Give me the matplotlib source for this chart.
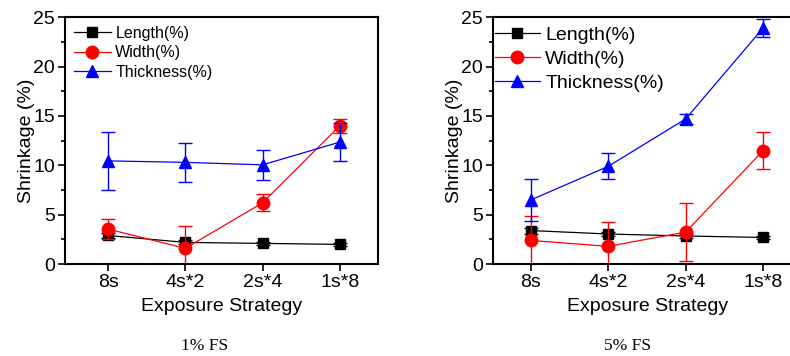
"""Shrinkage vs exposure strategy, 1% FS and 5% FS"""
import numpy as np
import matplotlib.pyplot as plt
from matplotlib.ticker import MultipleLocator

plt.rcParams['font.family'] = ['Liberation Sans', 'DejaVu Sans']

strategies = ['8s', '4s*2', '2s*4', '1s*8']

# 1% FS
length_1 = [2.9, 2.2, 2.1, 2.0]
length_1_err = [0.25, 0.2, 0.15, 0.15]
width_1 = [3.55, 1.6, 6.2, 14.0]
width_1_err = [1.05, 2.3, 0.85, 0.7]
thick_1 = [10.45, 10.3, 10.05, 12.35]
thick_1_err = [2.9, 1.95, 1.55, 1.9]

# 5% FS
length_5 = [3.4, 3.05, 2.85, 2.7]
length_5_err = [0.3, 0.2, 0.2, 0.15]
width_5 = [2.4, 1.8, 3.25, 11.5]
width_5_err = [2.45, 2.5, 2.95, 1.9]
thick_5 = [6.5, 9.9, 14.7, 23.9]
thick_5_err = [2.1, 1.3, 0.5, 0.9]


def draw_panel(ax, series, legend_size, legend_anchor, spacing):
    x = np.arange(len(strategies))
    for vals, err, color, marker, ms, label in series:
        ax.errorbar(x, vals, yerr=err, fmt='none', ecolor=color, elinewidth=1.0,
                    capsize=5, capthick=1.0)
        ax.plot(x, vals, color=color, marker=marker, ms=ms, lw=0.9, label=label)
    ax.set_ylim(0, 25)
    ax.yaxis.set_major_locator(MultipleLocator(5))
    ax.yaxis.set_minor_locator(MultipleLocator(2.5))
    ax.set_xticks(x)
    ax.set_xticklabels(strategies)
    ax.tick_params(axis='both', which='major', direction='out', length=5, width=1.2,
                   labelsize=14, pad=2)
    ax.tick_params(axis='y', which='minor', direction='out', length=3, width=1.2)
    for sp in ax.spines.values():
        sp.set_linewidth(1.5)
    ax.set_xlabel('Exposure Strategy', fontsize=14, labelpad=5)
    ax.set_ylabel('Shrinkage (%)', fontsize=14, labelpad=-1)
    ax.legend(loc='upper left', bbox_to_anchor=legend_anchor, frameon=False,
              fontsize=legend_size, handlelength=2.3, handletextpad=0.3,
              labelspacing=spacing, borderpad=0, borderaxespad=0)


fig = plt.figure(figsize=(7.9, 3.56), dpi=100)
ax1 = fig.add_axes([0.082, 0.258, 0.397, 0.694])
ax2 = fig.add_axes([0.624, 0.258, 0.391, 0.694])

draw_panel(ax1, [(length_1, length_1_err, 'black', 's', 7, 'Length(%)'),
                 (width_1, width_1_err, '#ff0000', 'o', 9, 'Width(%)'),
                 (thick_1, thick_1_err, '#0000ff', '^', 9, 'Thickness(%)')],
           11.5, (0.029, 0.965), 0.28)
ax1.set_xlim(-0.56, 3.5)
draw_panel(ax2, [(length_5, length_5_err, 'black', 's', 7, 'Length(%)'),
                 (width_5, width_5_err, '#ff0000', 'o', 9, 'Width(%)'),
                 (thick_5, thick_5_err, '#0000ff', '^', 9, 'Thickness(%)')],
           14, (0.006, 0.963), 0.32)
ax2.set_xlim(-0.49, 3.5)

fig.text(205 / 790, 1 - 346 / 356, '1% FS', family=['Liberation Serif', 'DejaVu Serif'],
         fontsize=12.5, ha='center', va='center')
fig.text(628 / 790, 1 - 346 / 356, '5% FS', family=['Liberation Serif', 'DejaVu Serif'],
         fontsize=12.5, ha='center', va='center')

fig.savefig('out.png', dpi=100)
